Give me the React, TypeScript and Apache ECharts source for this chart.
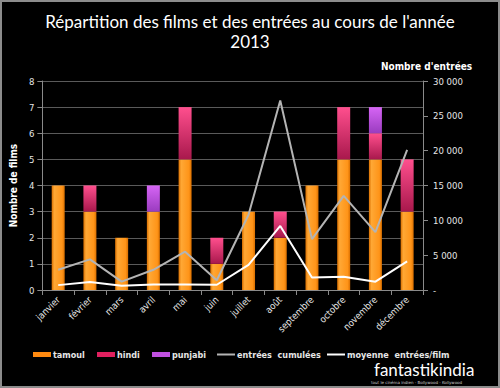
import React, { useEffect, useRef } from "react";
import * as echarts from "echarts";

const months = ["janvier", "février", "mars", "avril", "mai", "juin", "juillet", "août", "septembre", "octobre", "novembre", "décembre"];
const tamoul = [4, 3, 2, 3, 5, 1, 3, 2, 4, 5, 5, 3];
const hindi = [0, 1, 0, 0, 2, 1, 0, 1, 0, 2, 1, 2];
const punjabi = [0, 0, 0, 1, 0, 0, 0, 0, 0, 0, 1, 0];
const entreesCumulees = [2900, 4400, 1200, 2900, 5500, 1400, 10800, 27200, 7300, 13500, 8300, 20100];
const moyenneEntrees = [700, 1150, 600, 800, 800, 750, 3600, 9200, 1800, 1900, 1200, 4100];
const legendNames = ["tamoul", "hindi", "punjabi", "entrées  cumulées", "moyenne  entrées/film"];

const hGrad = (edge: string, mid: string, mid2: string) =>
  new echarts.graphic.LinearGradient(0, 0, 1, 0, [
    { offset: 0, color: edge },
    { offset: 0.2, color: mid },
    { offset: 0.8, color: mid2 },
    { offset: 1, color: edge },
  ]);
const vGrad = (top: string, bottom: string) =>
  new echarts.graphic.LinearGradient(0, 0, 0, 1, [
    { offset: 0, color: top },
    { offset: 1, color: bottom },
  ]);

export default function App() {
  const ref = useRef<HTMLDivElement>(null);
  useEffect(() => {
    const chart = echarts.init(ref.current!, null, { renderer: "svg" });
    const axisColor = "#8a8a8a";
    const labelColor = "#e6e6e6";
    const font = "DejaVu Sans Condensed";
    const legendText = { color: labelColor, fontFamily: font, fontSize: 9, fontWeight: "bold", padding: [0, 0, 0, -3] };
    const legendLefts = [28, 92, 147, 212, 322];
    const legendIcons = [
      { icon: "rect", h: 5, color: "#ff8a10" },
      { icon: "rect", h: 5, color: "#e0205f" },
      { icon: "rect", h: 5, color: "#c050e0" },
      { icon: "rect", h: 2, color: "#b4b4b4" },
      { icon: "rect", h: 2, color: "#ffffff" },
    ];
    chart.setOption({
      animation: false,
      backgroundColor: "#000",
      title: {
        text: "Répartition des films et des entrées au cours de l'année\n2013",
        left: "center",
        top: 6,
        textStyle: { color: "#fff", fontFamily: "Lato", fontWeight: "normal", fontSize: 17, lineHeight: 20 },
      },
      grid: { left: 40, right: 77, top: 81, bottom: 98 },
      legend: legendNames.map((name, i) => ({
        left: legendLefts[i],
        top: 345,
        itemWidth: 18,
        itemHeight: legendIcons[i].h,
        textStyle: legendText,
        data: [{ name, icon: legendIcons[i].icon, itemStyle: { color: legendIcons[i].color } }],
      })),
      xAxis: {
        type: "category",
        data: months,
        axisLine: { lineStyle: { color: axisColor } },
        axisTick: { show: true, lineStyle: { color: axisColor } },
        axisLabel: { color: labelColor, fontFamily: font, fontSize: 9.5, rotate: 45, margin: 8 },
      },
      yAxis: [
        {
          type: "value",
          min: 0,
          max: 8,
          interval: 1,
          name: "Nombre de films",
          nameLocation: "middle",
          nameGap: 22,
          nameRotate: 90,
          nameTextStyle: { color: "#fff", fontFamily: font, fontSize: 10, fontWeight: "bold" },
          axisLine: { show: true, lineStyle: { color: axisColor } },
          axisTick: { show: true, lineStyle: { color: axisColor } },
          axisLabel: { color: labelColor, fontFamily: font, fontSize: 9.5, margin: 8 },
          splitLine: { lineStyle: { color: "#5a5a5a" } },
        },
        {
          type: "value",
          min: 0,
          max: 30000,
          interval: 5000,
          name: "Nombre d'entrées",
          nameLocation: "end",
          nameGap: 10,
          nameTextStyle: { color: "#fff", fontFamily: font, fontSize: 10, fontWeight: "bold", align: "left", padding: [0, 0, 0, -42] },
          axisLine: { show: true, lineStyle: { color: axisColor } },
          axisTick: { show: true, lineStyle: { color: axisColor } },
          axisLabel: {
            color: labelColor,
            fontFamily: font,
            fontSize: 9.5,
            margin: 10,
            formatter: (v: number) => (v === 0 ? "-" : String(v).replace(/\B(?=(\d{3})+(?!\d))/g, " ")),
          },
          splitLine: { show: false },
        },
      ],
      series: [
        {
          name: "tamoul",
          type: "bar",
          stack: "films",
          barWidth: 13,
          data: tamoul,
          itemStyle: { color: hGrad("#d96f00", "#ffa835", "#ff9418") },
        },
        {
          name: "hindi",
          type: "bar",
          stack: "films",
          barWidth: 13,
          data: hindi,
          itemStyle: { color: vGrad("#ff4f8e", "#a8184c") },
        },
        {
          name: "punjabi",
          type: "bar",
          stack: "films",
          barWidth: 13,
          data: punjabi,
          itemStyle: { color: vGrad("#d665f5", "#9a3cbf") },
        },
        {
          name: "entrées  cumulées",
          type: "line",
          yAxisIndex: 1,
          data: entreesCumulees,
          symbol: "none",
          lineStyle: { color: "#b4b4b4", width: 2 },
          itemStyle: { color: "#b4b4b4" },
        },
        {
          name: "moyenne  entrées/film",
          type: "line",
          yAxisIndex: 1,
          data: moyenneEntrees,
          symbol: "none",
          lineStyle: { color: "#ffffff", width: 2 },
          itemStyle: { color: "#ffffff" },
        },
      ],
      graphic: [
        {
          type: "text",
          left: 374,
          top: 361,
          style: { text: "fantastikindia", fill: "#fff", font: "17px Lato" },
        },
        {
          type: "text",
          left: 371,
          top: 380,
          style: { text: "tout le cinéma indien - Bollywood - Kollywood", fill: "#ccc", font: "4px 'DejaVu Sans'" },
        },
      ],
    });
    return () => chart.dispose();
  }, []);
  return (
    <div
      style={{ position: "fixed", left: 0, top: 0, width: 500, height: 388, boxSizing: "border-box", border: "2px solid #8c8c8c", background: "#000", overflow: "hidden" }}
    >
      <div ref={ref} style={{ position: "absolute", left: -2, top: -2, width: 500, height: 388 }} />
    </div>
  );
}
